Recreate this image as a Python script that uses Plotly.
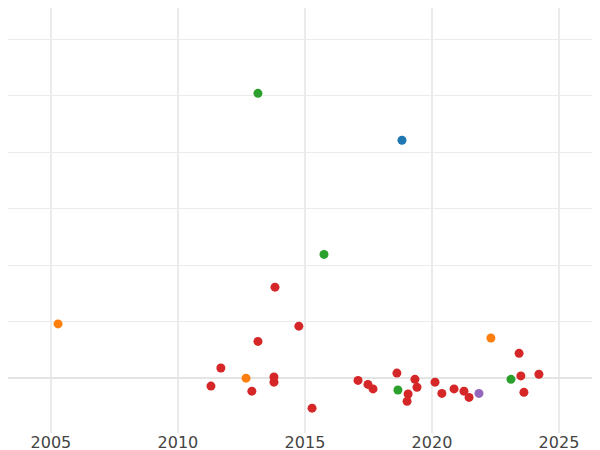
import plotly.graph_objects as go

groups = ["red", "green", "blue", "orange", "purple"]
colors = {"red": "#d62728", "green": "#2ca02c", "blue": "#1f77b4", "orange": "#ff7f0e", "purple": "#9467bd"}
xs = {
    "red": [2013.82, 2014.76, 2013.15, 2011.69, 2011.3, 2012.91, 2013.78, 2013.78, 2015.28, 2017.09, 2017.48, 2017.68, 2018.62, 2019.33, 2019.41, 2019.06, 2019.02, 2020.12, 2020.39, 2020.87, 2021.26, 2021.46, 2023.43, 2023.5, 2023.62, 2024.21],
    "green": [2013.15, 2015.75, 2018.66, 2023.11],
    "blue": [2018.82],
    "orange": [2005.28, 2012.68, 2022.32],
    "purple": [2021.85],
}
ys = {
    "red": [1.61, 0.92, 0.65, 0.18, -0.14, -0.23, 0.02, -0.07, -0.53, -0.04, -0.11, -0.19, 0.09, -0.02, -0.16, -0.28, -0.41, -0.07, -0.27, -0.19, -0.23, -0.34, 0.44, 0.04, -0.25, 0.07],
    "green": [5.04, 2.19, -0.21, -0.02],
    "blue": [4.21],
    "orange": [0.96, 0.0, 0.71],
    "purple": [-0.27],
}

fig = go.Figure()
for g in groups:
    fig.add_trace(go.Scatter(x=xs[g], y=ys[g], mode="markers",
                             marker=dict(color=colors[g], size=9), showlegend=False))
fig.update_layout(
    width=600, height=450, margin=dict(l=0, r=0, t=0, b=25, pad=0, autoexpand=False),
    plot_bgcolor="white", paper_bgcolor="white",
    font=dict(family="DejaVu Sans", size=16, color="#444"),
    xaxis=dict(range=[2003.31, 2026.93], tickvals=[2005, 2010, 2015, 2020, 2025],
               showgrid=True, gridcolor="#ebebeb", gridwidth=2, zeroline=False,
               ticklabelstandoff=-2),
    yaxis=dict(range=[-0.97, 6.55], dtick=1, showticklabels=False,
               showgrid=True, gridcolor="#ebebeb", gridwidth=1,
               zeroline=True, zerolinecolor="#e4e4e4", zerolinewidth=2),
)
fig.write_html("out.html")
